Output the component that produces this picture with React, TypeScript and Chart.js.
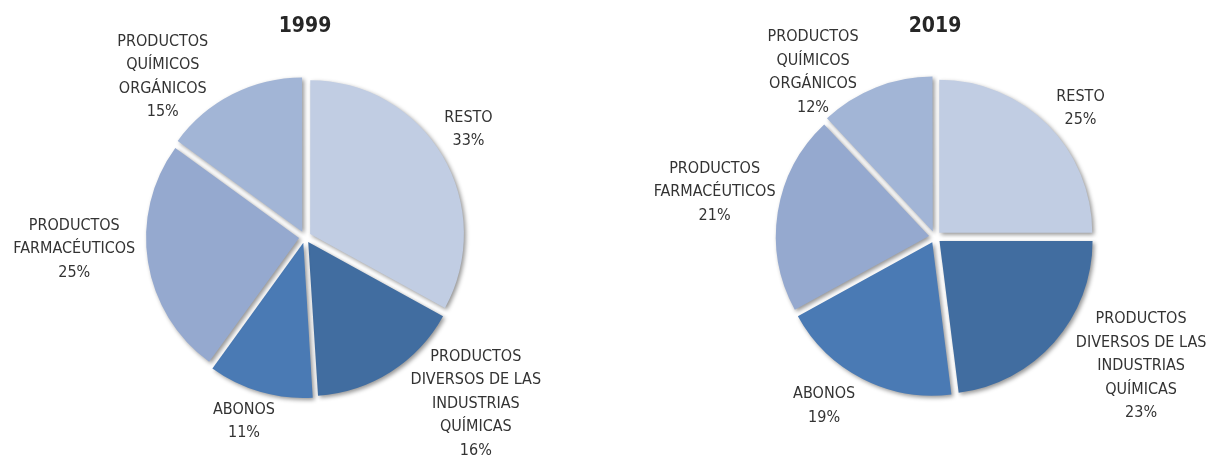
import React, { useEffect, useRef } from "react";
import { Chart, registerables } from "chart.js";

Chart.register(...registerables);

const CATEGORIES: string[][] = [
  ["RESTO"],
  ["PRODUCTOS", "DIVERSOS DE LAS", "INDUSTRIAS", "QUÍMICAS"],
  ["ABONOS"],
  ["PRODUCTOS", "FARMACÉUTICOS"],
  ["PRODUCTOS", "QUÍMICOS", "ORGÁNICOS"],
];
const VALUES_1999 = [33, 16, 11, 25, 15];
const VALUES_2019 = [25, 23, 19, 21, 12];
const TITLES = ["1999", "2019"];

const COLORS = ["#C1CDE3", "#416DA0", "#4A7AB4", "#95A9CF", "#A2B5D6"];

// label placement relative to each slice's mid-angle (degrees nudge, distance as radius factor)
const LABEL_NUDGE_1999 = [-2.8, -13.3, 2.1, 6, -14.6];
const LABEL_DIST_1999 = [1.28, 1.56, 1.27, 1.51, 1.4];
const LABEL_NUDGE_2019 = [3.5, -9.3, 6.3, 2.5, -14.9];
const LABEL_DIST_2019 = [1.27, 1.59, 1.32, 1.47, 1.34];

const FONT = '"DejaVu Sans Condensed", "DejaVu Sans", sans-serif';

function makePlugin(title: string, nudges: number[], dists: number[]) {
  return {
    id: "pieDecor",
    beforeDatasetsDraw(chart: any) {
      const ctx = chart.ctx;
      ctx.save();
      ctx.shadowColor = "rgba(0,0,0,0.42)";
      ctx.shadowBlur = 4;
      ctx.shadowOffsetX = 2;
      ctx.shadowOffsetY = 2;
    },
    afterDatasetsDraw(chart: any) {
      const ctx = chart.ctx;
      ctx.restore();
      const meta = chart.getDatasetMeta(0);
      const data = chart.data.datasets[0].data as number[];
      ctx.save();
      ctx.fillStyle = "#333333";
      ctx.font = `16px ${FONT}`;
      ctx.textAlign = "center";
      ctx.textBaseline = "middle";
      const lh = 23.5;
      meta.data.forEach((arc: any, i: number) => {
        const p = arc.getProps(["x", "y", "startAngle", "endAngle", "outerRadius"], true);
        const a = (p.startAngle + p.endAngle) / 2 + (nudges[i] * Math.PI) / 180;
        const d = p.outerRadius * dists[i];
        const cx = p.x + Math.cos(a) * d;
        const cy = p.y + Math.sin(a) * d;
        const lines = [...CATEGORIES[i], `${data[i]}%`];
        const top = cy - ((lines.length - 1) * lh) / 2;
        lines.forEach((t, k) => ctx.fillText(t, cx, top + k * lh));
      });
      // title
      const m0 = meta.data[0].getProps(["x"], true);
      ctx.fillStyle = "#262626";
      ctx.font = `bold 21px ${FONT}`;
      ctx.fillText(title, m0.x, 27);
      ctx.restore();
    },
  };
}

function PieChart(props: {
  title: string;
  values: number[];
  nudges: number[];
  dists: number[];
  padLeft: number;
}) {
  const ref = useRef<HTMLCanvasElement | null>(null);
  useEffect(() => {
    if (!ref.current) return;
    const chart = new Chart(ref.current, {
      type: "pie",
      data: {
        labels: CATEGORIES.map((c) => c.join(" ")),
        datasets: [
          {
            data: props.values,
            backgroundColor: COLORS,
            borderWidth: 0,
            offset: 24,
            hoverOffset: 24,
          } as any,
        ],
      },
      options: {
        animation: false,
        responsive: false,
        radius: 153,
        rotation: 0,
        layout: { padding: { left: props.padLeft, right: 0, top: 16, bottom: 0 } },
        plugins: {
          legend: { display: false },
          tooltip: { enabled: false },
          title: { display: false },
        },
        events: [],
      } as any,
      plugins: [makePlugin(props.title, props.nudges, props.dists)],
    });
    return () => chart.destroy();
  }, []);
  return <canvas ref={ref} width={604} height={458} style={{ display: "block" }} />;
}

export default function App() {
  return (
    <div
      style={{
        position: "fixed",
        left: 0,
        top: 0,
        width: 1208,
        height: 458,
        background: "#ffffff",
        display: "flex",
      }}
    >
      <PieChart title={TITLES[0]} values={VALUES_1999} nudges={LABEL_NUDGE_1999} dists={LABEL_DIST_1999} padLeft={6} />
      <PieChart title={TITLES[1]} values={VALUES_2019} nudges={LABEL_NUDGE_2019} dists={LABEL_DIST_2019} padLeft={58} />
    </div>
  );
}
